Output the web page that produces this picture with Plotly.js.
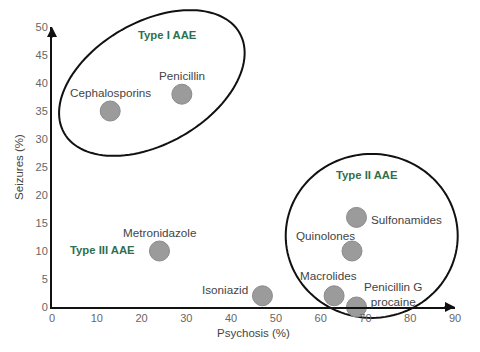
<!DOCTYPE html>
<html>
<head>
<meta charset="utf-8">
<script src="https://cdn.plot.ly/plotly-3.0.1.min.js"></script>
<style>html,body{margin:0;padding:0;background:#fff;}#chart{width:480px;height:352px;}</style>
</head>
<body>
<div id="chart"></div>
<script>
// ---- data ----
const drugs = ["Cephalosporins", "Penicillin", "Metronidazole", "Isoniazid", "Macrolides", "Penicillin G<br>procaine", "Quinolones", "Sulfonamides"];
const psychosis = [13, 29, 24, 47, 63, 68, 67, 68];
const seizures  = [35, 38, 10, 2, 2, 0, 10, 16];
const xTicks = [0, 10, 20, 30, 40, 50, 60, 70, 80, 90];
const yTicks = [0, 5, 10, 15, 20, 25, 30, 35, 40, 45, 50];
const groupNames = ["Type I AAE", "Type II AAE", "Type III AAE"];

// ---- layout geometry ----
const W = 480, H = 352;
const M = {l: 52, r: 25, t: 27, b: 45, pad: 0};
const plotW = W - M.l - M.r, plotH = H - M.t - M.b;
const xRange = [0, 90], yRange = [0, 50];

// label offsets (pixels) relative to each point
const labelStyle = [
  {xs: 0, ys: 19, xa: "center"},
  {xs: 0, ys: 19, xa: "center"},
  {xs: 0, ys: 19, xa: "center"},
  {xs: -12, ys: 6, xa: "right"},
  {xs: -6, ys: 20, xa: "center"},
  {xs: 6, ys: 13, xa: "left"},
  {xs: -27, ys: 16, xa: "center"},
  {xs: 13, ys: -2, xa: "left"}
];
const groupPos = [[25.7, 48.6], [70.3, 23.6], [11.2, 10.2]];

// ellipses: centre in data units, semi-axes in pixels, tilt in degrees
const ellipses = [
  {cx: 22.3, cy: 40.0, a: 101, b: 61, rot: 29.7},
  {cx: 71.4, cy: 12.7, a: 86, b: 82, rot: 0}
];

function ellipsePath(e) {
  const cxp = (e.cx - xRange[0]) / (xRange[1] - xRange[0]);
  const cyp = (e.cy - yRange[0]) / (yRange[1] - yRange[0]);
  const th = e.rot * Math.PI / 180;
  let d = "";
  const n = 120;
  for (let i = 0; i <= n; i++) {
    const t = 2 * Math.PI * i / n;
    const dx = e.a * Math.cos(t) * Math.cos(th) - e.b * Math.sin(t) * Math.sin(th);
    const dy = e.a * Math.cos(t) * Math.sin(th) + e.b * Math.sin(t) * Math.cos(th);
    const px = cxp + dx / plotW, py = cyp + dy / plotH;
    d += (i === 0 ? "M " : " L ") + px.toFixed(5) + "," + py.toFixed(5);
  }
  return d + " Z";
}

const font = "Liberation Sans, Arial, sans-serif";

const trace = {
  type: "scatter", mode: "markers",
  x: psychosis, y: seizures,
  marker: {size: 20, color: "#9b9b9b", line: {color: "#8a8a8a", width: 1}},
  cliponaxis: false, hoverinfo: "skip"
};

const annotations = [];
drugs.forEach((d, i) => {
  const s = labelStyle[i];
  annotations.push({
    x: psychosis[i], y: seizures[i], xref: "x", yref: "y",
    text: d, showarrow: false, xanchor: s.xa, yanchor: "middle",
    xshift: s.xs, yshift: s.ys, align: "center",
    font: {family: font, size: 11.7, color: "#444"}
  });
});
groupNames.forEach((g, i) => {
  annotations.push({
    x: groupPos[i][0], y: groupPos[i][1], xref: "x", yref: "y",
    text: "<b>" + g + "</b>", showarrow: false, xanchor: "center", yanchor: "middle",
    font: {family: font, size: 11.3, color: "#2f6f4f"}
  });
});
// axis arrowheads
annotations.push({x: xRange[1], y: 0, xref: "x", yref: "y", ax: -12, ay: 0, text: "",
  showarrow: true, arrowhead: 2, arrowsize: 1, arrowwidth: 2, arrowcolor: "#111"});
annotations.push({x: 0, y: yRange[1], xref: "x", yref: "y", ax: 0, ay: 12, text: "",
  showarrow: true, arrowhead: 2, arrowsize: 1, arrowwidth: 2, arrowcolor: "#111"});

const shapes = ellipses.map(e => ({
  type: "path", xref: "paper", yref: "paper", path: ellipsePath(e),
  line: {color: "#111", width: 2}, fillcolor: "rgba(0,0,0,0)", layer: "below"
}));

const layout = {
  width: W, height: H, margin: M,
  paper_bgcolor: "#fff", plot_bgcolor: "#fff",
  showlegend: false,
  font: {family: font, size: 11, color: "#555"},
  xaxis: {
    range: xRange, tickvals: xTicks, ticktext: xTicks.map(String),
    showgrid: false, zeroline: false, showline: true, linecolor: "#111", linewidth: 2,
    ticks: "", automargin: false, fixedrange: true,
    tickfont: {family: font, size: 11, color: "#666"},
    title: {text: "Psychosis (%)", font: {family: font, size: 11.5, color: "#444"}, standoff: 6}
  },
  yaxis: {
    range: yRange, tickvals: yTicks, ticktext: yTicks.map(String),
    showgrid: false, zeroline: false, showline: true, linecolor: "#111", linewidth: 2,
    ticks: "", automargin: false, fixedrange: true,
    tickfont: {family: font, size: 11, color: "#666"},
    title: {text: "Seizures (%)", font: {family: font, size: 11.5, color: "#444"}, standoff: 10}
  },
  shapes: shapes,
  annotations: annotations
};

Plotly.newPlot("chart", [trace], layout, {displayModeBar: false, staticPlot: true});
</script>
</body>
</html>
